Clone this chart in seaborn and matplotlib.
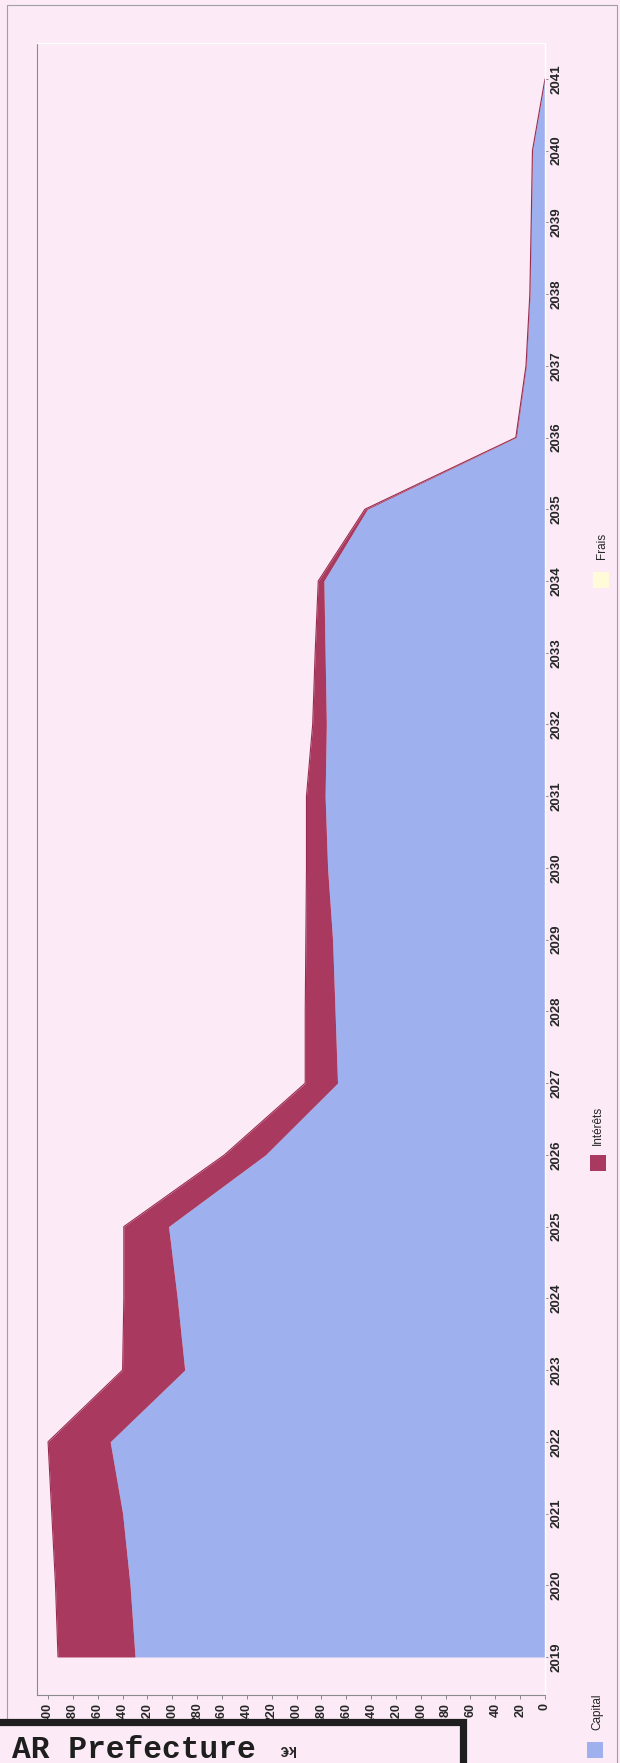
import matplotlib
matplotlib.use("Agg")
import pandas as pd
import seaborn as sns
import matplotlib.pyplot as plt
from matplotlib.patches import Rectangle

# annual debt service (k€)
years = list(range(2019, 2042))
capital = [330, 334, 340, 350, 290, 296, 303, 225, 167, 169, 171, 175,
           177, 176, 177, 178, 143, 23, 15, 12, 11, 10, 0]
interets = [62, 60, 57, 50, 50, 43, 36, 33, 26, 24, 21.5, 17,
            15, 11, 8, 4.5, 2, 0.5, 0.3, 0.2, 0.1, 0.1, 0]
frais = [0] * 23
value_ticks = list(range(0, 401, 20))
legend_labels = ["Capital", "Intérêts", "Frais"]

PAGE = "#fcebf6"
BLUE = "#9fb0ee"
RED = "#a9395e"
YELLOW = "#fffbd9"

sns.set_theme(style="white")
plt.rcParams['font.family'] = ['Liberation Sans', 'DejaVu Sans']

df = pd.DataFrame({"annee": years, "Capital": capital,
                   "Intérêts": interets, "Frais": frais})
df["cum_cap"] = df["Capital"]
df["cum_int"] = df["cum_cap"] + df["Intérêts"]
df["cum_frais"] = df["cum_int"] + df["Frais"]

W, H = 620, 1763
fig = plt.figure(figsize=(W / 100, H / 100), dpi=100, facecolor=PAGE)
ax = fig.add_axes([37 / W, 68 / H, 508 / W, 1652 / H])
ax.set_facecolor(PAGE)

# stacked areas, chart is turned on its side (values run right -> left)
ax.fill_betweenx(df["annee"], 0, df["cum_cap"], color=BLUE, lw=0)
ax.fill_betweenx(df["annee"], df["cum_cap"], df["cum_int"], color=RED, lw=0)
ax.fill_betweenx(df["annee"], df["cum_int"], df["cum_frais"], color=YELLOW, lw=0)
sns.lineplot(data=df, x="cum_int", y="annee", orient="y", color="#962c50",
             lw=0.8, ax=ax)

ax.set_xlim(408.9, 0)
ax.set_ylim(2018.47, 2041.5)
ax.set_xlabel("")
ax.set_ylabel("")

ax.set_yticks(years)
ax.set_yticklabels([str(y) for y in years], rotation=90, fontsize=9.5,
                   fontweight="bold", va="center")
ax.yaxis.tick_right()
ax.tick_params(axis="y", right=True, left=False, length=2.5, width=0.6,
               pad=1.5, color="#777777")

ax.set_xticks(value_ticks)
ax.set_xticklabels([str(v) for v in value_ticks], rotation=90, fontsize=9,
                   fontweight="bold")
ax.tick_params(axis="x", bottom=True, length=3, width=0.6, pad=2.5,
               color="#777777")

for side in ["left", "bottom"]:
    ax.spines[side].set_color("#8a8a8a")
    ax.spines[side].set_linewidth(0.8)
for side in ["top", "right"]:
    ax.spines[side].set_color("#ffffff")
    ax.spines[side].set_linewidth(1.0)

# legend, set out as a column on the right of the page
legend_colors = [BLUE, RED, YELLOW]
swatch_pos = [(595, 1750), (598, 1163), (601, 580)]
text_pos = [(597, 1712), (598, 1125), (602, 546)]
for lab, col, (sx, sy), (tx, ty) in zip(legend_labels, legend_colors, swatch_pos, text_pos):
    fig.patches.append(Rectangle(((sx - 8) / W, (H - sy - 8) / H), 16 / W, 16 / H,
                                 transform=fig.transFigure, facecolor=col,
                                 edgecolor="none", zorder=3))
    fig.text(tx / W, (H - ty) / H, lab, rotation=90, ha="center", va="center",
             fontsize=8.5, zorder=3)

# scanned page border
fig.patches.append(Rectangle((7 / W, -10 / H), 610 / W, (H + 10 - 5) / H,
                             transform=fig.transFigure, fill=False,
                             edgecolor="#a0a0a0", lw=0.8, zorder=1))

# prefecture stamp covering the bottom-left corner
fig.patches.append(Rectangle((-20 / W, -20 / H), 483 / W, (20 + H - 1722) / H,
                             transform=fig.transFigure, facecolor=PAGE,
                             edgecolor="#1e1e1e", lw=5.2, zorder=2))
fig.text(12 / W, 5 / H, "AR Prefecture", family=["Liberation Mono", "DejaVu Sans Mono"],
         fontweight="bold", fontsize=22.5, ha="left", va="baseline",
         color="#1e1e1e", zorder=4)

# axis unit, upside down after the page rotation
fig.text(287 / W, (H - 1749) / H, "k€", rotation=180, ha="center", va="center",
         fontsize=10.5, fontweight="bold", zorder=5)

fig.savefig("out.png", dpi=100, facecolor=PAGE)
